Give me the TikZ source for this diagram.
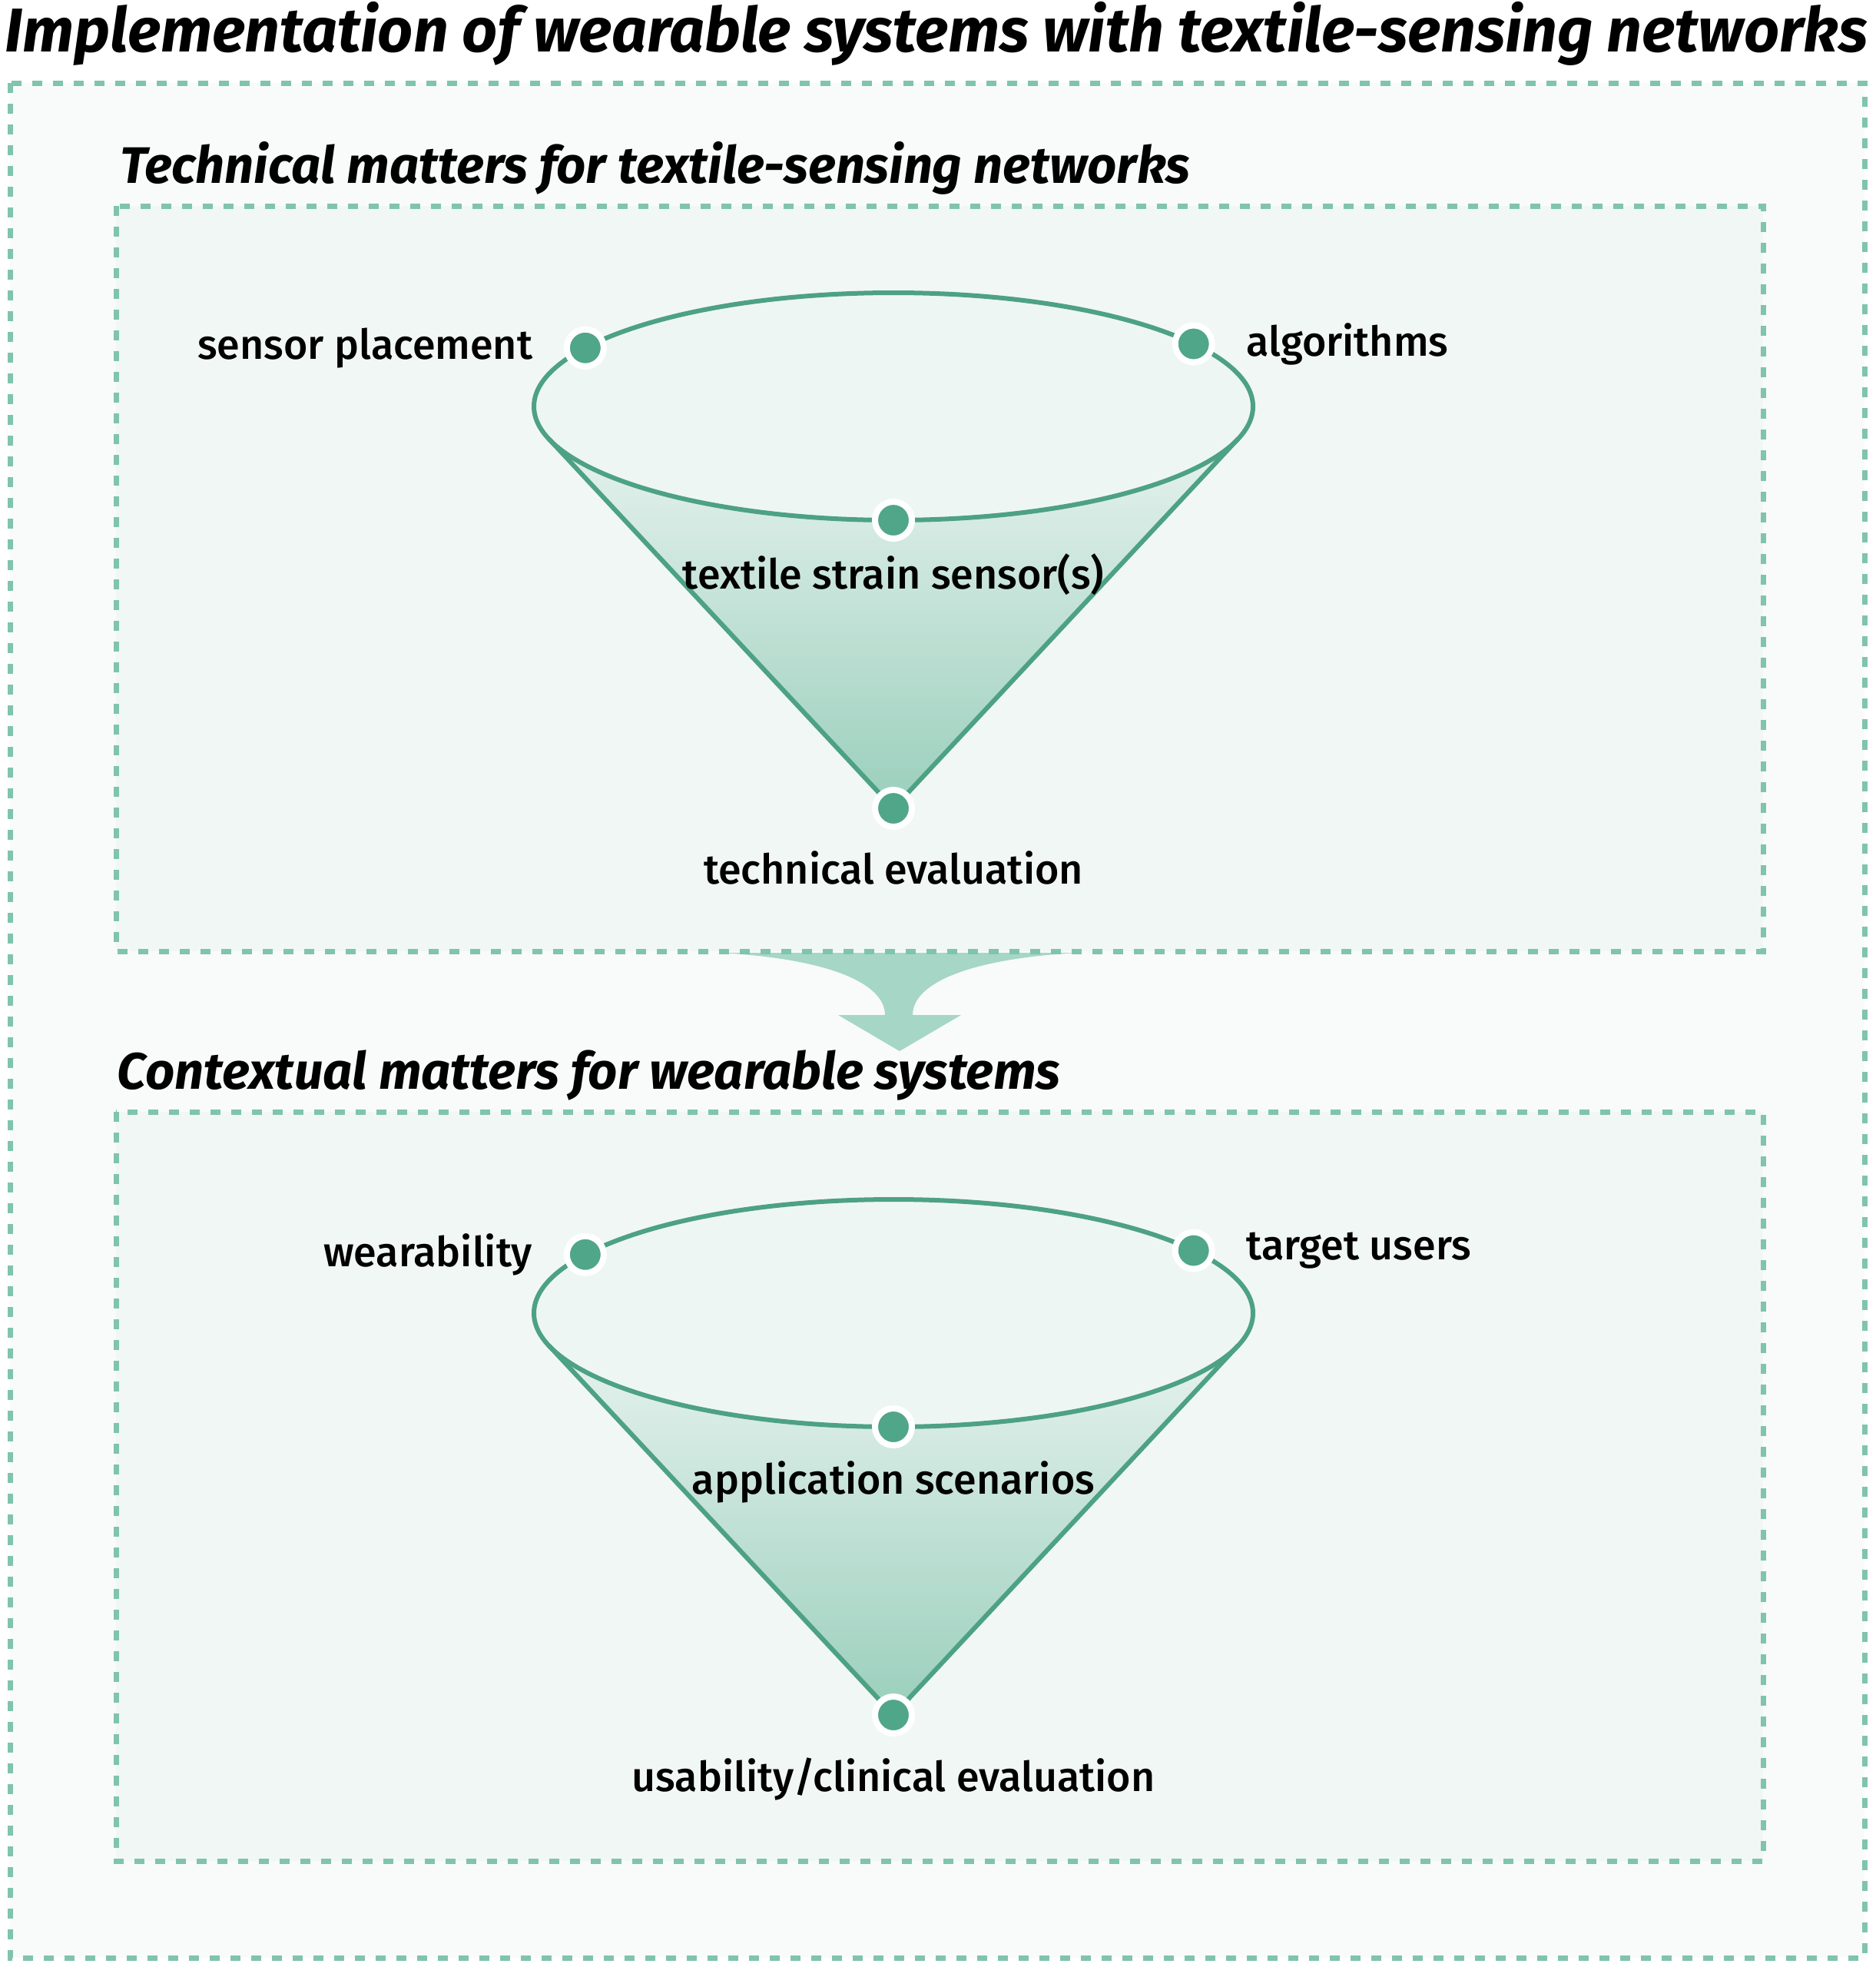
\documentclass[tikz,border=0pt]{standalone}
\usepackage{fontspec}
\setmainfont{Fira Sans}
\newfontfamily\medfont{Fira Sans Medium}
\usetikzlibrary{positioning, calc}
\definecolor{PageTint}{HTML}{F8FBFA}
\definecolor{BoxTint}{HTML}{F1F7F5}
\definecolor{DashGreen}{HTML}{80C4AD}
\definecolor{LineGreen}{HTML}{4DA184}
\definecolor{DotGreen}{HTML}{50A688}
\definecolor{RimFill}{HTML}{EEF6F3}
\definecolor{ConeTop}{HTML}{E6F2EE}
\definecolor{ConeBottom}{HTML}{9ACFBC}
\definecolor{FlowGreen}{HTML}{A6D6C6}

\begin{document}
\begin{tikzpicture}[
    frame/.style={draw=DashGreen, line width=0.07cm, dash pattern=on 0.13cm off 0.14cm},
    rim/.style={draw=LineGreen, line width=0.06cm},
    dot/.style={circle, fill=DotGreen, draw=white, line width=0.08cm,
                minimum size=0.48cm, inner sep=0pt},
    lbl/.style={font=\medfont\fontsize{15.3}{18}\selectfont, inner sep=0pt},
    heading/.style={font=\bfseries\itshape\fontsize{19}{22}\selectfont,
                    inner sep=0pt, anchor=base west}
]
    \useasboundingbox (0,0) rectangle (24.41,-25.60);
    \fill[white] (0,0) rectangle (24.41,-25.60);

    % Title and outer frame
    \node[font=\bfseries\itshape\fontsize{22.9}{26}\selectfont, inner sep=0pt, anchor=base]
        (title) at (12.19,-0.67) {Implementation of wearable systems with textile-sensing networks};
    \draw[frame, fill=PageTint] (0.13,-1.08) rectangle (24.27,-25.48);

    % Flow arrow between the two boxes
    \fill[FlowGreen] (9.38,-12.40) .. controls (10.8,-12.48) and (11.52,-12.80) .. (11.52,-13.21)
        -- (10.91,-13.21) -- (11.71,-13.68) -- (12.51,-13.21) -- (11.88,-13.21)
        .. controls (11.88,-12.80) and (12.6,-12.48) .. (14.02,-12.40) -- cycle;

    % Technical box
    \node[heading] (techhead) at (1.56,-2.38) {Technical matters for textile-sensing networks};
    \draw[frame, fill=BoxTint] (1.51,-2.68) rectangle (22.95,-12.38);

    \begin{scope}[shift={(11.63,-5.29)}]
        \shade[top color=ConeTop, bottom color=ConeBottom]
            (196.4:4.68cm and 1.48cm) -- (0,-5.23) -- (-16.4:4.68cm and 1.48cm)
            arc[start angle=-16.4, end angle=-163.6, x radius=4.68, y radius=1.48] -- cycle;
        \draw[rim, fill=RimFill] (0,0) ellipse [x radius=4.68, y radius=1.48];
        \draw[rim] (196.4:4.68cm and 1.48cm) -- (0,-5.23) -- (-16.4:4.68cm and 1.48cm);

        \node[dot] (placement) at (149:4.68cm and 1.48cm) {};
        \node[dot] (algo) at (33.4:4.68cm and 1.48cm) {};
        \node[dot] (strain) at (270:4.68cm and 1.48cm) {};
        \node[dot] (techeval) at (0,-5.23) {};

        \node[lbl, left=0.40cm of placement] (placement-txt) {sensor placement};
        \node[lbl, right=0.40cm of algo] (algo-txt) {algorithms};
        \node[lbl, anchor=base] (strain-txt) at (0,-2.37) {textile strain sensor(s)};
        \node[lbl, anchor=base] (techeval-txt) at (0,-6.21) {technical evaluation};
    \end{scope}

    % Contextual box
    \node[heading] (ctxhead) at (1.52,-14.17) {Contextual matters for wearable systems};
    \draw[frame, fill=BoxTint] (1.51,-14.47) rectangle (22.95,-24.22);

    \begin{scope}[shift={(11.63,-17.09)}]
        \shade[top color=ConeTop, bottom color=ConeBottom]
            (196.4:4.68cm and 1.48cm) -- (0,-5.23) -- (-16.4:4.68cm and 1.48cm)
            arc[start angle=-16.4, end angle=-163.6, x radius=4.68, y radius=1.48] -- cycle;
        \draw[rim, fill=RimFill] (0,0) ellipse [x radius=4.68, y radius=1.48];
        \draw[rim] (196.4:4.68cm and 1.48cm) -- (0,-5.23) -- (-16.4:4.68cm and 1.48cm);

        \node[dot] (wear) at (149:4.68cm and 1.48cm) {};
        \node[dot] (users) at (33.4:4.68cm and 1.48cm) {};
        \node[dot] (scen) at (270:4.68cm and 1.48cm) {};
        \node[dot] (useval) at (0,-5.23) {};

        \node[lbl, left=0.40cm of wear] (wear-txt) {wearability};
        \node[lbl, right=0.40cm of users] (users-txt) {target users};
        \node[lbl, anchor=base] (scen-txt) at (0,-2.35) {application scenarios};
        \node[lbl, anchor=base] (useval-txt) at (0,-6.22) {usability/clinical evaluation};
    \end{scope}
\end{tikzpicture}
\end{document}
